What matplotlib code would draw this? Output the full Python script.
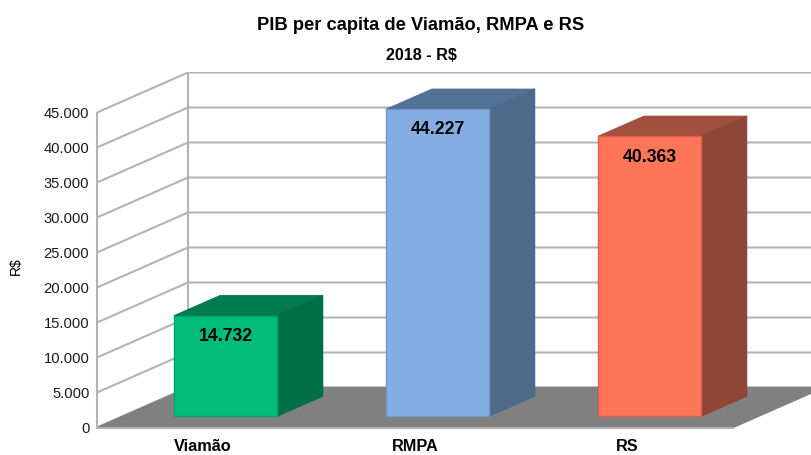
import matplotlib
matplotlib.use('Agg')
import matplotlib.pyplot as plt
from matplotlib.ticker import FuncFormatter

plt.rcParams['font.family'] = ['Liberation Sans', 'DejaVu Sans']

categorias = ['Viamão', 'RMPA', 'RS']
valores = [14732, 44227, 40363]
rotulos = ['14.732', '44.227', '40.363']
ticks_y = [0, 5000, 10000, 15000, 20000, 25000, 30000, 35000, 40000, 45000]

cor_frente = ['#00BC7A', '#84AEE3', '#FF7558']
cor_topo = ['#007A4F', '#527296', '#A2503D']
cor_lado = ['#006F47', '#4E6A8A', '#904636']
cor_borda = ['#00A56B', '#6F97C8', '#D9604A']

COR_GRADE = '#B3B3B3'
COR_CHAO = '#808080'

# deslocamento da perspectiva (profundidade total) em unidades dos eixos
DX = 91 / 212
DY = 40 / 0.007
LARG = 0.242
# cantos arredondados: a face visivel fica um pouco menor que a barra
RECUO = 200


def proj(x, v, d):
    return x + d * DX, v + d * DY


def face(ax, pontos, cor, z, borda=None):
    xs = [p[0] for p in pontos]
    ys = [p[1] for p in pontos]
    ax.fill(xs, ys, facecolor=cor, edgecolor=borda if borda else cor,
            linewidth=1.0, joinstyle='round', zorder=z)


fig = plt.figure(figsize=(8.11, 4.55), dpi=100)
ax = fig.add_axes([97 / 811, 27.5 / 455, 714 / 811, 355.5 / 455])
ax.set_xlim(-0.5, 714 / 212 - 0.5)
ax.set_ylim(0, 355.5 / 0.007)

# grade: parede lateral e parede do fundo
for t in ticks_y:
    x1, y1 = proj(-0.5, t, 0)
    x2, y2 = proj(-0.5, t, 1)
    x3, y3 = proj(2.5, t, 1)
    ax.plot([x1, x2, x3], [y1, y2, y3], color=COR_GRADE, lw=1.5, zorder=1,
            solid_joinstyle='miter')
x2, y2 = proj(-0.5, 0, 1)
x3, y3 = proj(-0.5, ticks_y[-1], 1)
ax.plot([x2, x3], [y2, y3], color=COR_GRADE, lw=1.5, zorder=1)

# chao
face(ax, [proj(-0.5, 0, 0), proj(2.5, 0, 0), proj(2.5, 0, 1), proj(-0.5, 0, 1)],
     COR_CHAO, 2)

# barras
for i, v in enumerate(valores):
    e, d = i - LARG, i + LARG
    p0, p1 = 0.25, 0.75
    base, alto = RECUO, v - RECUO
    face(ax, [proj(e, alto, p0), proj(d, alto, p0), proj(d, alto, p1), proj(e, alto, p1)],
         cor_topo[i], 3)
    face(ax, [proj(d, base, p0), proj(d, base, p1), proj(d, alto, p1), proj(d, alto, p0)],
         cor_lado[i], 3)
    face(ax, [proj(e, base, p0), proj(d, base, p0), proj(d, alto, p0), proj(e, alto, p0)],
         cor_frente[i], 4, cor_borda[i])
    tx, ty = proj(i, v - 3150, p0)
    ax.text(tx, ty, rotulos[i], ha='center', va='center', fontsize=12.7,
            fontweight='bold', color='black', zorder=5)

ax.set_xticks(range(len(categorias)))
ax.set_xticklabels(categorias, fontsize=11.7, fontweight='bold')
ax.set_yticks(ticks_y)
ax.yaxis.set_major_formatter(FuncFormatter(lambda v, _: f'{int(v):,}'.replace(',', '.')))
ax.tick_params(axis='y', length=0, pad=5.5, labelsize=10.6, labelcolor='#1a1a1a')
ax.tick_params(axis='x', length=0, pad=8.5)

for lado in ['top', 'right']:
    ax.spines[lado].set_visible(False)
ax.spines['left'].set_bounds(0, ticks_y[-1])
ax.spines['bottom'].set_bounds(-0.5, 2.5)
ax.spines['left'].set_color(COR_GRADE)
ax.spines['bottom'].set_color(COR_GRADE)
ax.spines['left'].set_linewidth(1.5)
ax.spines['bottom'].set_linewidth(1.5)
ax.patch.set_visible(False)

fig.text(421 / 811, 1 - 25.5 / 455, 'PIB per capita de Viamão, RMPA e RS', ha='center',
         va='center', fontsize=13.2, fontweight='bold')
fig.text(421.5 / 811, 1 - 55 / 455, '2018 - R$', ha='center', va='center',
         fontsize=11.6, fontweight='bold')
fig.text(16 / 811, 1 - 266 / 455, 'R$', rotation=90, ha='center', va='center',
         fontsize=10)

fig.savefig('out.png', dpi=100)
